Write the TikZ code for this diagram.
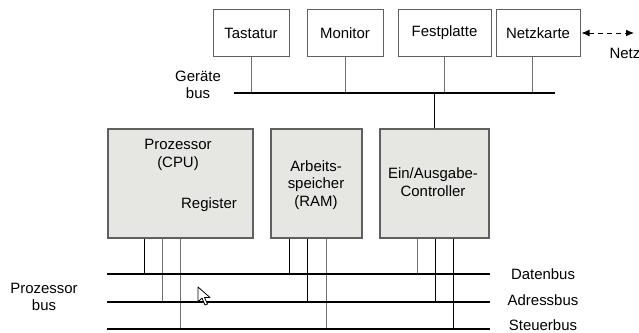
\documentclass[tikz,border=0pt]{standalone}
\usepackage{fontspec}
\setmainfont{Liberation Sans}
\usetikzlibrary{arrows.meta}
\definecolor{boxfill}{HTML}{E6E6E3}
\definecolor{boxline}{HTML}{606060}
\definecolor{linegray}{HTML}{707070}
\tikzset{
  devbox/.style={draw=boxline, line width=1bp, fill=white, minimum height=47.5bp, inner sep=0pt, font=\fontsize{15}{17.5}\selectfont},
  unitbox/.style={draw=boxline, line width=1.2bp, fill=boxfill, minimum height=109bp, inner sep=0pt},
  lbl/.style={font=\fontsize{15}{17.5}\selectfont, inner sep=0pt, align=center},
  bus/.style={line width=2.6bp, black},
  conn/.style={line width=1bp, linegray},
  connb/.style={line width=1bp, black},
}
\begin{document}
\begin{tikzpicture}[x=1bp,y=-1bp]
\useasboundingbox (0,0) rectangle (639,332);
% device boxes
\node[devbox, minimum width=76bp] (tast) at (251,33) {Tastatur};
\node[devbox, minimum width=76bp] (mon) at (345,33) {Monitor};
\node[devbox, minimum width=93bp] (fest) at (444.5,33) {Festplatte};
\node[devbox, minimum width=84bp] (netzk) at (538,33) {Netzkarte};
% network arrow
\coordinate (netzend) at (634,33);
\draw[line width=1bp, dash pattern=on 5bp off 4bp, {Latex[length=8bp,width=7bp]}-{Latex[length=8bp,width=7bp]}] ([xshift=1bp]netzk.east) -- (netzend);
\node[lbl] (netz) at (625,53) {Netz};
% Geraete bus
\coordinate (gbl) at (234,93);
\coordinate (gbr) at (555,93);
\node[lbl] (gblabel) at (198,85) {Geräte\\bus};
% units
\node[unitbox, minimum width=145bp] (cpu) at (180.5,183.5) {};
\node[unitbox, minimum width=91bp] (ram) at (316.5,183.5) {};
\node[unitbox, minimum width=109bp] (io) at (434.5,183.5) {};
\node[lbl] (cputxt) at (178,155) {Prozessor\\(CPU)};
\node[lbl] (regtxt) at (209,205) {Register};
\node[lbl] (ramtxt) at (316,185) {Arbeits-\\speicher\\(RAM)};
\node[lbl] (iotxt) at (433,182) {Ein/Ausgabe-\\Controller};
% device connectors
\draw[conn] (tast.south) -- (tast.south |- gbl);
\draw[conn] (mon.south) -- (mon.south |- gbl);
\draw[conn] (fest.south) -- (fest.south |- gbl);
\draw[conn] (netzk.south -| 532,0) -- (532,93);
\draw[connb] (io.north) -- (io.north |- gbl);
\draw[bus] (gbl) -- (gbr);
% processor bus
\coordinate (dbl) at (107,274); \coordinate (dbr) at (490,274);
\coordinate (abl) at (107,302); \coordinate (abr) at (490,302);
\coordinate (sbl) at (107,329); \coordinate (sbr) at (490,329);
% unit connectors
\draw[connb] (cpu.south -| 144,0) -- (144,274);
\draw[conn] (cpu.south -| 162,0) -- (162,302);
\draw[conn] (cpu.south -| 180,0) -- (180,329);
\draw[connb] (ram.south -| 289,0) -- (289,274);
\draw[connb] (ram.south -| 307,0) -- (307,302);
\draw[conn] (ram.south -| 326,0) -- (326,329);
\draw[conn] (io.south -| 417,0) -- (417,274);
\draw[connb] (io.south -| 435,0) -- (435,302);
\draw[connb] (io.south -| 453,0) -- (453,329);
\draw[bus] (dbl) -- (dbr);
\draw[bus] (abl) -- (abr);
\draw[bus] (sbl) -- (sbr);
\node[lbl] (dlab) at (543,274) {Datenbus};
\node[lbl] (alab) at (543,300) {Adressbus};
\node[lbl] (slab) at (543,325) {Steuerbus};
\node[lbl] (pblab) at (44,297) {Prozessor\\bus};
% mouse cursor
\draw[line width=0.8bp, fill=white, line join=round] (198,287) -- (198,302) -- (202,298) -- (205,305) -- (207.5,304) -- (204.5,297.5) -- (210,297.5) -- cycle;
\end{tikzpicture}
\end{document}
